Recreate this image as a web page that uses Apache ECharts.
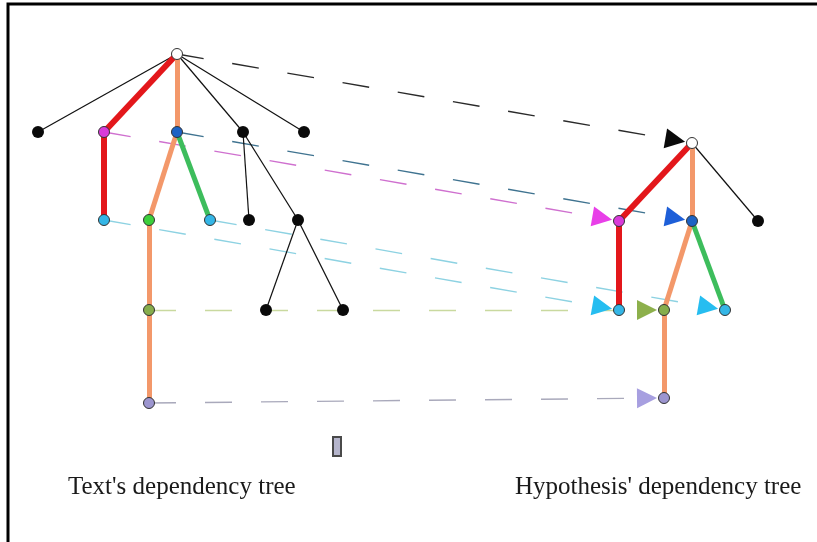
<!DOCTYPE html>
<html>
<head>
<meta charset="utf-8">
<script src="https://cdn.jsdelivr.net/npm/echarts@6/dist/echarts.min.js"></script>
<style>
html, body { margin: 0; padding: 0; background: #fff; }
#chartDom { width: 817px; height: 542px; }
</style>
</head>
<body>
<div id="chartDom"></div>
<script>
// text's dependency tree: node ids, positions, kinds
var textIds  = ['root', 'n1', 'mag', 'blue', 'n2', 'n3', 'cyanA', 'green', 'cyanB', 'n4', 'n5', 'olive', 'n6', 'n7', 'purple'];
var textX    = [177, 38, 104, 177, 243, 304, 104, 149, 210, 249, 298, 149, 266, 343, 149];
var textY    = [54, 132, 132, 132, 132, 132, 220, 220, 220, 220, 220, 310, 310, 310, 403];
var textKind = ['root', 'black', 'magenta', 'blue', 'black', 'black', 'cyan', 'green', 'cyan', 'black', 'black', 'olive', 'black', 'black', 'purple'];
var textEdges = [
    ['root', 'n1', 'plain'], ['root', 'mag', 'red'], ['root', 'blue', 'orange'], ['root', 'n2', 'plain'], ['root', 'n3', 'plain'],
    ['mag', 'cyanA', 'red'], ['blue', 'green', 'orange'], ['blue', 'cyanB', 'greenRel'], ['n2', 'n4', 'plain'], ['n2', 'n5', 'plain'],
    ['n5', 'n6', 'plain'], ['n5', 'n7', 'plain'], ['green', 'olive', 'orange'], ['olive', 'purple', 'orange']
];

// hypothesis' dependency tree
var hypIds  = ['root', 'mag', 'blue', 'n1', 'cyanA', 'olive', 'cyanB', 'purple'];
var hypX    = [692, 619, 692, 758, 619, 664, 725, 664];
var hypY    = [143, 221, 221, 221, 310, 310, 310, 398];
var hypKind = ['root', 'magenta', 'blue', 'black', 'cyan', 'olive', 'cyan', 'purple'];
var hypEdges = [
    ['root', 'mag', 'red'], ['root', 'blue', 'orange'], ['root', 'n1', 'plain'],
    ['mag', 'cyanA', 'red'], ['blue', 'olive', 'orange'], ['blue', 'cyanB', 'greenRel'], ['olive', 'purple', 'orange']
];

// alignment text node -> hypothesis node
var alignFrom = ['root', 'mag', 'blue', 'cyanA', 'cyanB', 'olive', 'purple'];
var alignTo   = ['root', 'mag', 'blue', 'cyanA', 'cyanB', 'olive', 'purple'];
var alignKind = ['root', 'magenta', 'blue', 'cyan', 'cyan', 'olive', 'purple'];

var labels = ["Text's dependency tree", "Hypothesis' dependency tree"];

// styles
var nodeColor = { root: '#ffffff', black: '#0a0a0a', magenta: '#d93bd9', blue: '#1d62c4', cyan: '#34b6e6', green: '#3ccf3c', olive: '#86ad4c', purple: '#9c95cf' };
var edgeStyle = {
    plain: { color: '#111', width: 1.2 },
    red: { color: '#e3171b', width: 6 },
    orange: { color: '#f3986a', width: 5 },
    greenRel: { color: '#3dbd5c', width: 5 }
};
var dashColor = { root: '#2a2a2a', magenta: '#cf70cf', blue: '#3f7390', cyan: '#8dd2e2', olive: '#c9d99f', purple: '#a9a9bb' };
var headColor = { root: '#0a0a0a', magenta: '#e83fe8', blue: '#1e5fd8', cyan: '#26bdf0', olive: '#8db04c', purple: '#a79fe0' };

function pos(ids, xs, ys, id) {
    var i = ids.indexOf(id);
    return [xs[i], ys[i]];
}

function edgeData(edges, ids, xs, ys) {
    return edges.map(function (e) {
        var st = edgeStyle[e[2]];
        return {
            coords: [pos(ids, xs, ys, e[0]), pos(ids, xs, ys, e[1])],
            lineStyle: { color: st.color, width: st.width, opacity: 1 }
        };
    });
}

function nodeData(ids, xs, ys, kinds) {
    return ids.map(function (id, i) {
        var k = kinds[i];
        return {
            value: [xs[i], ys[i]],
            symbolSize: k == 'black' ? 12 : 11,
            itemStyle: {
                color: nodeColor[k],
                opacity: 1,
                borderColor: k == 'black' ? '#0a0a0a' : '#333',
                borderWidth: k == 'black' ? 0 : 1
            }
        };
    });
}

var R = 6, HEAD = 20;
var dashData = [], headData = [];
alignFrom.forEach(function (f, i) {
    var a = pos(textIds, textX, textY, f);
    var b = pos(hypIds, hypX, hypY, alignTo[i]);
    var k = alignKind[i];
    var dx = b[0] - a[0], dy = b[1] - a[1];
    var len = Math.sqrt(dx * dx + dy * dy), ux = dx / len, uy = dy / len;
    var tip = [b[0] - ux * (R + 1), b[1] - uy * (R + 1)];
    var mid = [tip[0] - ux * HEAD / 2, tip[1] - uy * HEAD / 2];
    dashData.push({ coords: [a, mid], lineStyle: { color: dashColor[k] } });
    headData.push({ coords: [[mid[0] - ux * 2, mid[1] - uy * 2], mid], lineStyle: { color: headColor[k] } });
});

var myChart = echarts.init(document.getElementById('chartDom'));

var option = {
    animation: false,
    backgroundColor: '#fff',
    grid: { left: 0, right: 0, top: 0, bottom: 0 },
    xAxis: { type: 'value', min: 0, max: 817, show: false },
    yAxis: { type: 'value', min: 0, max: 542, inverse: true, show: false },
    graphic: [
        { type: 'polyline', shape: { points: [[8, 542], [8, 4], [817, 4]] }, style: { stroke: '#000', lineWidth: 3, fill: null } },
        { type: 'text', x: 68, y: 475, style: { text: labels[0], font: '25px "Liberation Serif"', fill: '#1a1a1a', verticalAlign: 'top' } },
        { type: 'text', x: 515, y: 475, style: { text: labels[1], font: '25px "Liberation Serif"', fill: '#1a1a1a', verticalAlign: 'top' } },
        { type: 'rect', shape: { x: 333, y: 437, width: 8, height: 19 }, style: { fill: '#b5b5cc', stroke: '#4a4a4a', lineWidth: 2 } }
    ],
    series: [
        {
            type: 'lines', coordinateSystem: 'cartesian2d', z: 1, silent: true,
            lineStyle: { type: [27, 29], width: 1.4, opacity: 1 },
            data: dashData
        },
        {
            type: 'lines', coordinateSystem: 'cartesian2d', z: 2, silent: true,
            data: edgeData(textEdges, textIds, textX, textY).concat(edgeData(hypEdges, hypIds, hypX, hypY))
        },
        {
            type: 'lines', coordinateSystem: 'cartesian2d', z: 3, silent: true,
            symbol: ['none', 'triangle'], symbolSize: HEAD,
            lineStyle: { width: 1, opacity: 1 },
            data: headData
        },
        {
            type: 'scatter', z: 4, silent: true,
            data: nodeData(textIds, textX, textY, textKind).concat(nodeData(hypIds, hypX, hypY, hypKind))
        }
    ]
};

myChart.setOption(option);
</script>
</body>
</html>
